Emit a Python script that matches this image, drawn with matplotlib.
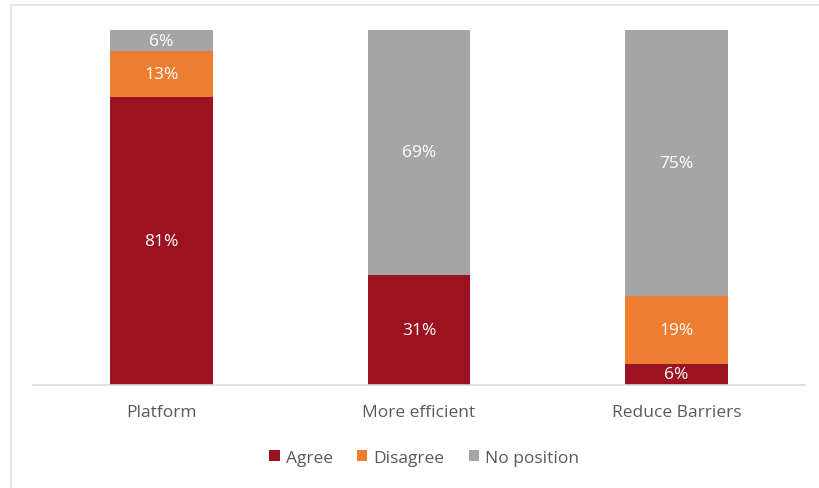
import matplotlib.pyplot as plt
from matplotlib.lines import Line2D

categories = ["Platform", "More efficient", "Reduce Barriers"]
agree = [81, 31, 6]
disagree = [13, 0, 19]
no_position = [6, 69, 75]

series = [("Agree", agree, "#9B1321"),
          ("Disagree", disagree, "#ED7D31"),
          ("No position", no_position, "#A5A5A5")]

plt.rcParams["font.family"] = ["Open Sans", "DejaVu Sans"]

fig = plt.figure(figsize=(8.19, 4.89), dpi=100)
ax = fig.add_axes([33 / 819, 1 - 386 / 489, 772 / 819, 355 / 489])

x = range(len(categories))
bottom = [0] * len(categories)
for name, vals, color in series:
    ax.bar(x, vals, bottom=bottom, width=0.4, color=color, label=name)
    for i, v in enumerate(vals):
        if v > 0:
            ax.text(i, bottom[i] + v / 2, f"{v}%", ha="center", va="center",
                    color="white", fontsize=12.5)
    bottom = [b + v for b, v in zip(bottom, vals)]

ax.set_xlim(-0.5, 2.5)
ax.set_ylim(0, 100)
ax.set_xticks(list(x))
ax.set_xticklabels(categories, fontsize=12.5, color="#595959")
ax.tick_params(axis="x", length=0, pad=14)
ax.set_yticks([])
for s in ["top", "right", "left"]:
    ax.spines[s].set_visible(False)
ax.spines["bottom"].set_color("#D9D9D9")
ax.spines["bottom"].set_linewidth(1.2)

leg = fig.legend(loc="center", bbox_to_anchor=(0.518, 1 - 459 / 489), ncol=3,
                 frameon=False, fontsize=12.5, handlelength=0.6, handleheight=0.6,
                 handletextpad=0.35, columnspacing=1.4)
for t in leg.get_texts():
    t.set_color("#595959")

# faint frame around the chart area
fig.add_artist(Line2D([11 / 819, 1], [1 - 6 / 489] * 2, color="#E4E4E4", lw=1.2))
fig.add_artist(Line2D([11 / 819] * 2, [0, 1 - 6 / 489], color="#E4E4E4", lw=1.2))

fig.savefig("out.png", dpi=100)
